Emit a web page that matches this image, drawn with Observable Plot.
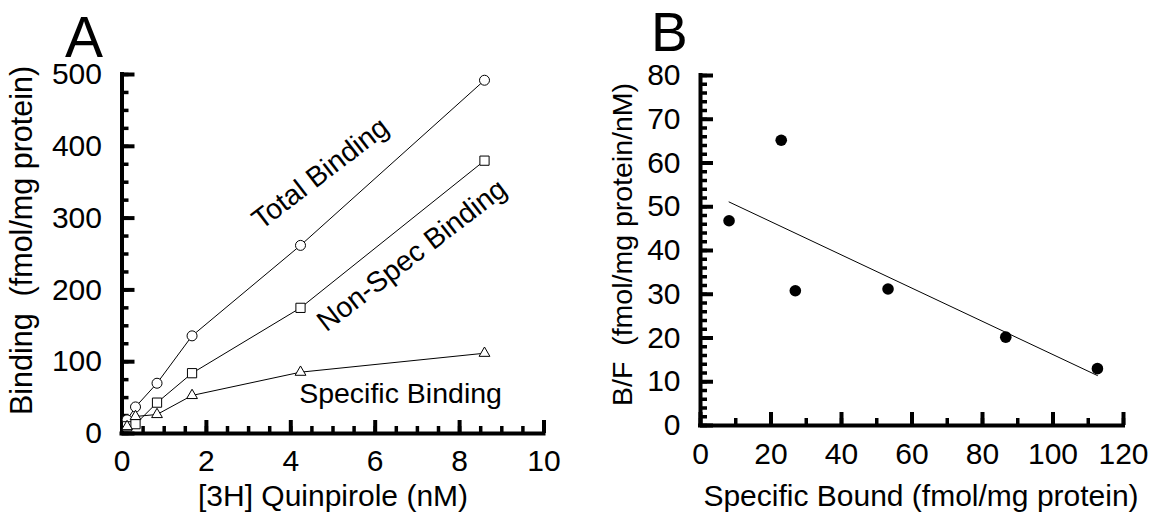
<!DOCTYPE html>
<html><head><meta charset="utf-8">
<script src="https://cdn.jsdelivr.net/npm/d3@7"></script>
<script src="https://cdn.jsdelivr.net/npm/@observablehq/plot@0.6"></script>
<style>
body{margin:0;background:#fff;}
#wrap{position:relative;width:1151px;height:516px;overflow:hidden;font-family:"Liberation Sans",Arial,sans-serif;background:#fff;}
.panel{position:absolute;top:0;}
.letter{position:absolute;display:block;line-height:1;color:#000;overflow:visible;font-family:"Liberation Sans",Arial,sans-serif;}
</style></head><body>
<div id="wrap">
 <div id="a" class="panel" style="left:0"></div>
 <div id="b" class="panel" style="left:580px"></div>
 <div class="letter" style="left:65px;top:9px;height:46px;font-size:57px">A</div>
 <div class="letter" style="left:651px;top:5px;height:44px;font-size:55px">B</div>
</div>
<script>
// Panel A data: [3H] Quinpirole concentration (nM) and binding (fmol/mg protein)
const concentration = [0.12, 0.32, 0.83, 1.66, 4.23, 8.59];
const totalBinding = [19, 37, 70, 136, 262, 492];
const nonSpecBinding = [10, 13, 43, 84, 175, 380];
const specificBinding = [9.7, 23.7, 26.5, 53, 85.4, 111.8];
const seriesLabels = ["Total Binding", "Non-Spec Binding", "Specific Binding"];
const labelX = [4.7, 6.87, 6.6];
const labelY = [362, 248, 55];
const titlesA = ["[3H] Quinpirole (nM)", "Binding  (fmol/mg protein)"];

// Panel B data: Scatchard
const specificBound = [8.1, 22.9, 26.9, 53.2, 86.6, 112.6];
const boundOverFree = [46.8, 65.2, 30.8, 31.2, 20.2, 13.0];
const titlesB = ["Specific Bound (fmol/mg protein)", "B/F  (fmol/mg protein/nM)"];

const FONT = "Liberation Sans, Arial, sans-serif";
const FS = 30;
const rows = (ys) => concentration.map((c, i) => ({x: c, y: ys[i]}));
const total = rows(totalBinding), nonspec = rows(nonSpecBinding), specific = rows(specificBinding);
const annotations = seriesLabels.map((t, i) => ({text: t, x: labelX[i], y: labelY[i]}));
const titleOpts = {text: d => d, textAnchor: "middle", lineAnchor: "middle", fill: "black"};

const plotA = Plot.plot({
  width: 580, height: 516,
  marginLeft: 121.5, marginRight: 36.5, marginTop: 74, marginBottom: 83,
  style: {fontFamily: FONT, fontSize: FS + "px", background: "transparent", color: "#000", overflow: "visible"},
  x: {domain: [0, 10]},
  y: {domain: [0, 500]},
  marks: [
    Plot.axisX({ticks: d3.range(0, 10.01, 0.5), tickSize: -7, strokeWidth: 3.5, text: null, label: null}),
    Plot.axisX({ticks: d3.range(0, 11, 2), tickSize: -13, strokeWidth: 4, text: null, label: null}),
    Plot.axisX({ticks: d3.range(0, 11, 2), tickSize: 0, tickPadding: 16, fontSize: FS, label: null}),
    Plot.axisY({ticks: d3.range(0, 501, 25), tickSize: -7, strokeWidth: 3.5, text: null, label: null}),
    Plot.axisY({ticks: d3.range(0, 501, 100), tickSize: -13, strokeWidth: 4, text: null, label: null}),
    Plot.axisY({ticks: d3.range(0, 501, 100), tickSize: 0, tickPadding: 20, fontSize: FS, label: null}),
    Plot.text([titlesA[0]], {...titleOpts, frameAnchor: "bottom", dy: 63, fontSize: FS}),
    Plot.text([titlesA[1]], {...titleOpts, frameAnchor: "left", rotate: -90, dx: -99.5, dy: -13.5, fontSize: 30.5}),
    Plot.ruleX([0], {stroke: "black", strokeWidth: 4, strokeLinecap: "square"}),
    Plot.ruleY([0], {stroke: "black", strokeWidth: 4, strokeLinecap: "square"}),
    Plot.line(total, {x: "x", y: "y", stroke: "black", strokeWidth: 1}),
    Plot.line(nonspec, {x: "x", y: "y", stroke: "black", strokeWidth: 1}),
    Plot.line(specific, {x: "x", y: "y", stroke: "black", strokeWidth: 1}),
    Plot.dot(total, {x: "x", y: "y", symbol: "circle", r: 5, fill: "white", stroke: "black", strokeWidth: 1}),
    Plot.dot(nonspec, {x: "x", y: "y", symbol: "square", r: 5.2, fill: "white", stroke: "black", strokeWidth: 1}),
    Plot.dot(specific, {x: "x", y: "y", symbol: "triangle", r: 4, fill: "white", stroke: "black", strokeWidth: 1}),
    Plot.text(annotations.slice(0, 2), {x: "x", y: "y", text: "text", rotate: -37.5, fontSize: 28.5, fill: "black"}),
    Plot.text(annotations.slice(2), {x: "x", y: "y", text: "text", fontSize: 28.5, fill: "black"})
  ]
});
document.getElementById("a").append(plotA);

const scatch = specificBound.map((b, i) => ({x: b, y: boundOverFree[i]}));
const plotB = Plot.plot({
  width: 571, height: 516,
  marginLeft: 120, marginRight: 28, marginTop: 75, marginBottom: 91,
  style: {fontFamily: FONT, fontSize: FS + "px", background: "transparent", color: "#000", overflow: "visible"},
  x: {domain: [0, 120]},
  y: {domain: [0, 80]},
  marks: [
    Plot.axisX({ticks: d3.range(0, 121, 10), tickSize: -7, strokeWidth: 3.5, text: null, label: null}),
    Plot.axisX({ticks: d3.range(0, 121, 20), tickSize: -13, strokeWidth: 4, text: null, label: null}),
    Plot.axisX({ticks: d3.range(0, 121, 20), tickSize: 0, tickPadding: 17, fontSize: FS, label: null}),
    Plot.axisY({ticks: d3.range(0, 81, 2), tickSize: -7, strokeWidth: 3.5, text: null, label: null}),
    Plot.axisY({ticks: d3.range(0, 81, 10), tickSize: -13, strokeWidth: 4, text: null, label: null}),
    Plot.axisY({ticks: d3.range(0, 81, 10), tickSize: 0, tickPadding: 20, fontSize: FS, label: null}),
    Plot.text([titlesB[0]], {...titleOpts, frameAnchor: "bottom", dx: 9, dy: 71, fontSize: FS}),
    Plot.text([titlesB[1]], {...titleOpts, frameAnchor: "left", rotate: -90, dx: -78, dy: -6, fontSize: 28.5}),
    Plot.ruleX([0], {stroke: "black", strokeWidth: 4, strokeLinecap: "square"}),
    Plot.ruleY([0], {stroke: "black", strokeWidth: 4, strokeLinecap: "square"}),
    Plot.linearRegressionY(scatch, {x: "x", y: "y", stroke: "black", strokeWidth: 1, ci: 0}),
    Plot.dot(scatch, {x: "x", y: "y", r: 5.8, fill: "black", stroke: "none"})
  ]
});
document.getElementById("b").append(plotB);
</script>
</body></html>
